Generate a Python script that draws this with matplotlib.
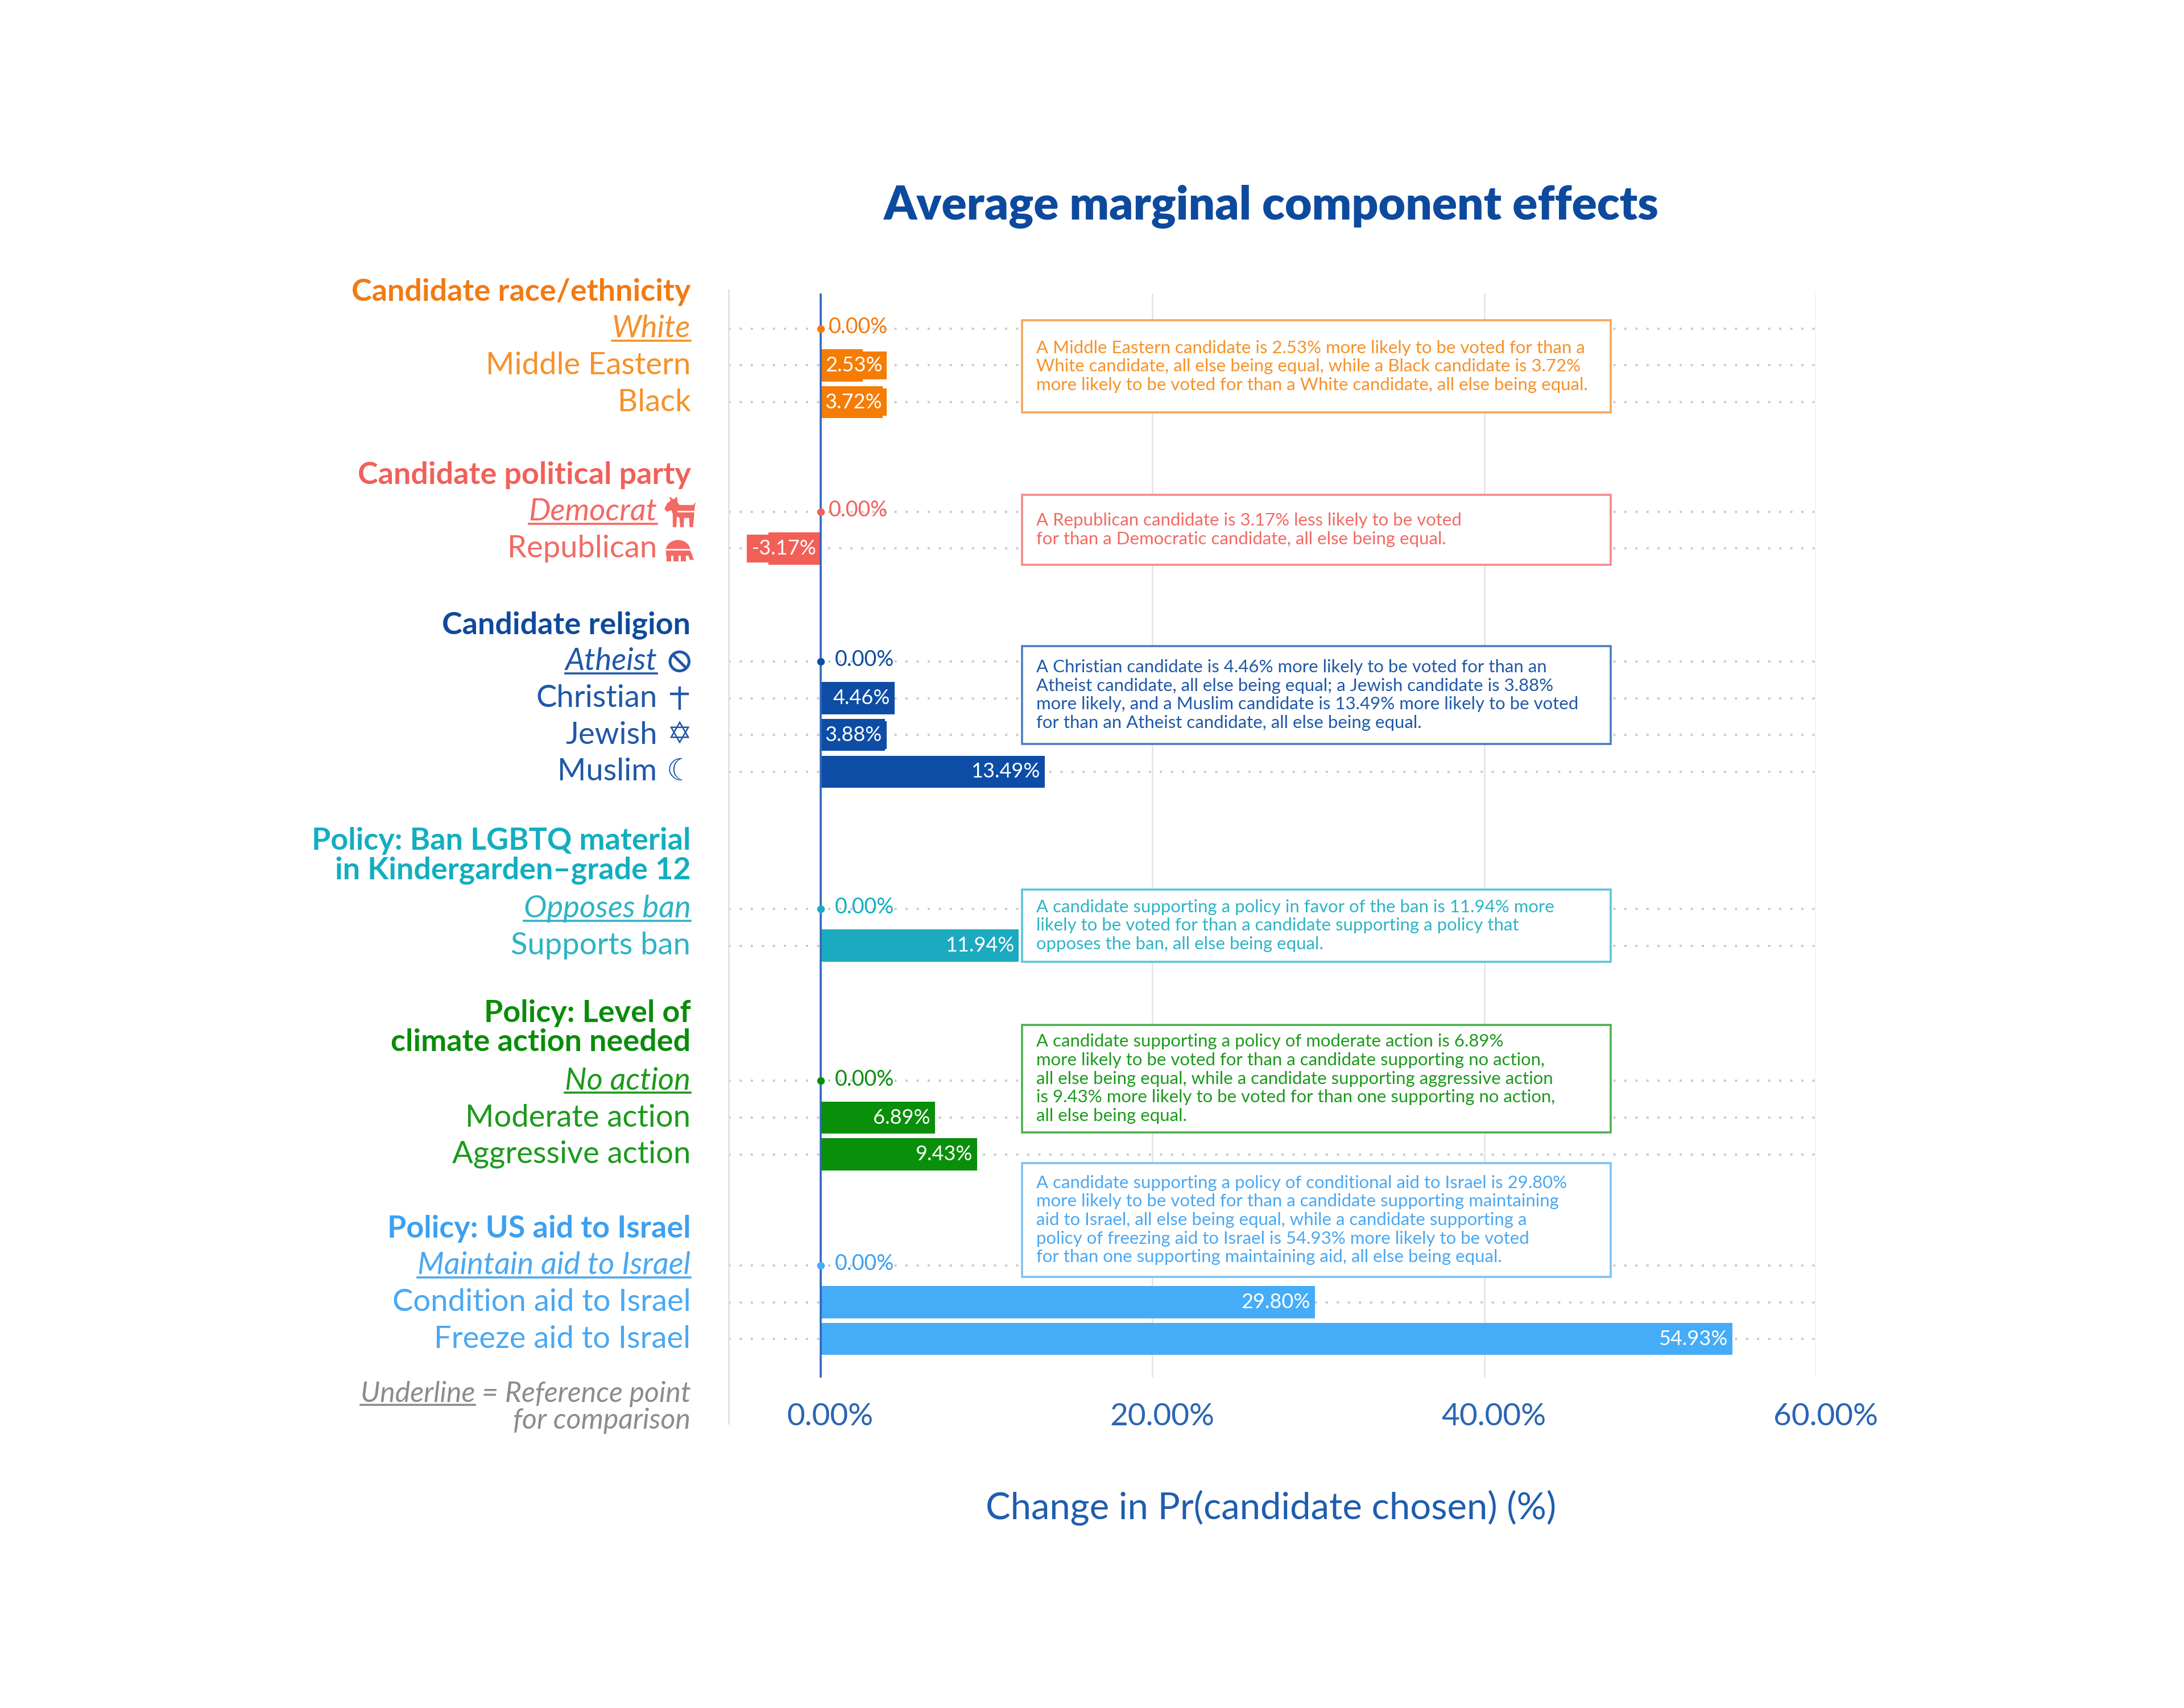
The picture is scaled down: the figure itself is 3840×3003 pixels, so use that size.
import numpy as np
import matplotlib
matplotlib.use("Agg")
import matplotlib.pyplot as plt
from matplotlib.patches import Rectangle, Polygon, Circle, Wedge
from matplotlib.lines import Line2D
import matplotlib.transforms as mtransforms

plt.rcParams['font.family'] = ['Lato', 'DejaVu Sans']

# ---- data ----
group_names = ["Candidate race/ethnicity",
               "Candidate political party",
               "Candidate religion",
               "Policy: Ban LGBTQ material\nin Kindergarden\u2013grade 12",
               "Policy: Level of\nclimate action needed",
               "Policy: US aid to Israel"]

race_levels = ["White", "Middle Eastern", "Black"]
race_amce = [0.00, 2.53, 3.72]
party_levels = ["Democrat", "Republican"]
party_amce = [0.00, -3.17]
religion_levels = ["Atheist", "Christian", "Jewish", "Muslim"]
religion_amce = [0.00, 4.46, 3.88, 13.49]
lgbtq_levels = ["Opposes ban", "Supports ban"]
lgbtq_amce = [0.00, 11.94]
climate_levels = ["No action", "Moderate action", "Aggressive action"]
climate_amce = [0.00, 6.89, 9.43]
israel_levels = ["Maintain aid to Israel", "Condition aid to Israel", "Freeze aid to Israel"]
israel_amce = [0.00, 29.80, 54.93]

all_levels = [race_levels, party_levels, religion_levels, lgbtq_levels, climate_levels, israel_levels]
all_amce = [race_amce, party_amce, religion_amce, lgbtq_amce, climate_amce, israel_amce]

notes = [
    "A Middle Eastern candidate is 2.53% more likely to be voted for than a\n"
    "White candidate, all else being equal, while a Black candidate is 3.72%\n"
    "more likely to be voted for than a White candidate, all else being equal.",
    "A Republican candidate is 3.17% less likely to be voted\n"
    "for than a Democratic candidate, all else being equal.",
    "A Christian candidate is 4.46% more likely to be voted for than an\n"
    "Atheist candidate, all else being equal; a Jewish candidate is 3.88%\n"
    "more likely, and a Muslim candidate is 13.49% more likely to be voted\n"
    "for than an Atheist candidate, all else being equal.",
    "A candidate supporting a policy in favor of the ban is 11.94% more\n"
    "likely to be voted for than a candidate supporting a policy that\n"
    "opposes the ban, all else being equal.",
    "A candidate supporting a policy of moderate action is 6.89%\n"
    "more likely to be voted for than a candidate supporting no action,\n"
    "all else being equal, while a candidate supporting aggressive action\n"
    "is 9.43% more likely to be voted for than one supporting no action,\n"
    "all else being equal.",
    "A candidate supporting a policy of conditional aid to Israel is 29.80%\n"
    "more likely to be voted for than a candidate supporting maintaining\n"
    "aid to Israel, all else being equal, while a candidate supporting a\n"
    "policy of freezing aid to Israel is 54.93% more likely to be voted\n"
    "for than one supporting maintaining aid, all else being equal.",
]

# ---- style ----
head_cols = ['#F27A12', '#F0615A', '#0E4A9C', '#12AEC0', '#0A8C0A', '#3CA0F0']
item_cols = ['#F5922A', '#F26A63', '#2058A8', '#2DB4C6', '#1C9A1C', '#4AA8F2']
bar_cols = ['#F57C05', '#F25F57', '#0D4DA6', '#1BAABF', '#0A8F0A', '#45ACF7']
box_cols = ['#F8A55A', '#F58A85', '#4A7CC0', '#5AC6D4', '#4CB04C', '#7CC1F5']
icons = [None, ['donkey', 'elephant'], ['atheist', 'cross', '\u2721', '\u263E'], None, None, None]
zero_pad = [5, 5, 9, 9, 9, 9]

# layout grid of the reference (px of a 1562 x 1221.5 canvas)
W, H = 1562.0, 1221.5
def fx(px):
    return px / W
def fy(py):
    return 1 - py / H

group_top = [235, 366, 473, 650, 773, 905]
row_step = 26.3
box_rows = [(229, 295), (354, 404), (462, 532), (636, 688), (733, 810), (832, 913)]
box_x = (12.13, 47.61)

fig = plt.figure(figsize=(19.2, 15.015), dpi=200)
ax = fig.add_axes([fx(521), fy(985), fx(1299) - fx(521), fy(210) - fy(985)])
ax.set_xlim(-5.56, 60)
ax.set_ylim(985, 210)
for s in ax.spines.values():
    s.set_visible(False)
ax.set_yticks([])
ax.set_xticks([0, 20, 40, 60])
ax.set_xticklabels([f"{t:.2f}%" for t in [0, 20, 40, 60]])
ax.tick_params(axis='x', length=0, pad=16, labelsize=19.8, labelcolor='#2A66B4')
shift = mtransforms.ScaledTranslation(6 / 72, 0, fig.dpi_scale_trans)
for lab in ax.get_xticklabels():
    lab.set_transform(lab.get_transform() + shift)
for t in [20, 40, 60]:
    ax.axvline(t, color='#E4E4E4', lw=0.9, zorder=0)
ax.axvline(0, color='#2F66BE', lw=1.3, zorder=6)

blend = mtransforms.blended_transform_factory(ax.transAxes, ax.transData)
fig_blend = mtransforms.blended_transform_factory(fig.transFigure, ax.transData)
lab_x = (494 - 521) / (1299 - 521)
lab_x_icon = (470 - 521) / (1299 - 521)
icon_x = 486

underlined = []

def icon_axes(y, w, h):
    fig_xy = fig.transFigure.inverted().transform(ax.transData.transform((0, y)))
    return fig.add_axes([fx(icon_x) - fx(w) / 2, fig_xy[1] - h / H / 2, fx(w), h / H])

def draw_icon(kind, y, col):
    if kind in ('donkey', 'elephant', 'atheist', 'cross'):
        sz = {'donkey': (23, 22), 'elephant': (21, 18), 'atheist': (17, 17), 'cross': (14, 17)}[kind]
        iax = icon_axes(y, *sz)
        iax.set_xlim(0, 1)
        iax.set_ylim(0, 1)
        iax.axis('off')
        if kind == 'donkey':
            pts = [(0.03, 0.60), (0.12, 0.78), (0.22, 0.86), (0.18, 1.0), (0.32, 0.90), (0.42, 1.0),
                   (0.44, 0.80), (0.50, 0.72), (0.93, 0.72), (1.0, 0.82), (0.97, 0.62), (0.95, 0.35),
                   (0.92, 0.0), (0.81, 0.0), (0.80, 0.30), (0.64, 0.30), (0.63, 0.0), (0.52, 0.0),
                   (0.50, 0.30), (0.42, 0.35), (0.40, 0.0), (0.29, 0.0), (0.29, 0.42), (0.25, 0.55),
                   (0.10, 0.50)]
            iax.add_patch(Polygon(pts, closed=True, fc=col, ec='none'))
            iax.plot([0.45, 0.95], [0.52, 0.52], color='white', lw=1.0)
        elif kind == 'elephant':
            iax.add_patch(Wedge((0.45, 0.42), 0.42, 0, 180, fc=col, ec='none'))
            iax.add_patch(Rectangle((0.03, 0.22), 0.84, 0.21, fc=col, ec='none'))
            for lx in (0.05, 0.30, 0.55):
                iax.add_patch(Rectangle((lx, 0.0), 0.16, 0.25, fc=col, ec='none'))
            iax.add_patch(Polygon([(0.80, 0.45), (0.92, 0.30), (0.96, 0.12), (1.0, 0.05),
                                   (0.85, 0.05), (0.80, 0.22)], closed=True, fc=col, ec='none'))
            iax.plot([0.05, 0.86], [0.46, 0.46], color='white', lw=1.0)
        elif kind == 'atheist':
            iax.set_aspect('equal')
            iax.add_patch(Circle((0.5, 0.5), 0.40, fill=False, ec=col, lw=1.8))
            iax.plot([0.22, 0.78], [0.78, 0.22], color=col, lw=1.8, solid_capstyle='butt')
        else:
            iax.plot([0.5, 0.5], [0.0, 1.0], color=col, lw=1.6)
            iax.plot([0.08, 0.92], [0.68, 0.68], color=col, lw=1.6)
    else:
        ax.text(fx(icon_x), y, kind, transform=fig_blend, ha='center', va='center', fontsize=19,
                color=col, family=['DejaVu Sans'], fontweight='bold', clip_on=False)

for g in range(len(group_names)):
    levels = all_levels[g]
    vals = all_amce[g]
    ys = group_top[g] + row_step * np.arange(len(levels))
    for y in ys:
        ax.axhline(y, color='#CACACA', lw=1.4, ls=(0, (1, 4)), zorder=1)
    ax.barh(ys, vals, height=23, color=bar_cols[g], zorder=3)

    nlines = group_names[g].count('\n') + 1
    hy = group_top[g] - (26 if nlines == 1 else 38)
    ax.text(lab_x, hy, group_names[g], transform=blend, ha='right', va='center',
            fontsize=19.4, fontweight='bold', color=head_cols[g], linespacing=1.06, clip_on=False)

    for i, (lev, v, y) in enumerate(zip(levels, vals, ys)):
        has_icon = icons[g] is not None
        t = ax.text(lab_x_icon if has_icon else lab_x, y, lev, transform=blend, ha='right', va='center',
                    fontsize=19.6, color=item_cols[g], style='italic' if i == 0 else 'normal', clip_on=False)
        if i == 0:
            underlined.append((t, item_cols[g]))
        if has_icon:
            draw_icon(icons[g][i], y, item_cols[g])

        lbl = f"{v:.2f}%"
        if v == 0:
            ax.plot(0, y, 'o', ms=3.8, color=bar_cols[g], zorder=7)
            ax.annotate(lbl, (0, y), xytext=(zero_pad[g], 1), textcoords='offset points', ha='left',
                        va='center', fontsize=13.5, color=head_cols[g], zorder=7)
        elif abs(v) < 4:
            # label sits on a patch of the bar colour when the bar is too short to hold it
            ax.annotate(lbl, (0, y), xytext=(2.8 if v > 0 else -2.8, 0), textcoords='offset points',
                        ha='left' if v > 0 else 'right', va='center', fontsize=13, color='white', zorder=5,
                        bbox=dict(boxstyle='square,pad=0.22', fc=bar_cols[g], ec='none'))
        else:
            ax.annotate(lbl, (v, y), xytext=(-3, 0), textcoords='offset points', ha='right', va='center',
                        fontsize=13, color='white', zorder=5)

    top, bot = box_rows[g]
    ax.add_patch(Rectangle((box_x[0], top), box_x[1] - box_x[0], bot - top, fc='white',
                           ec=box_cols[g], lw=1.3, zorder=4))
    ax.text(box_x[0] + 0.85, (top + bot) / 2, notes[g], ha='left', va='center', fontsize=11.2,
            color=item_cols[g], linespacing=1.2, zorder=5)

# separator line left of the plot
fig.add_artist(Line2D([fx(521), fx(521)], [fy(207), fy(1018)], color='#E2E2E2', lw=1.0))

fig.text(fx(909), fy(148), "Average marginal component effects", ha='center', va='center',
         fontsize=29.5, fontweight='heavy', color='#0D4A9E')
fig.text(fx(909), fy(1078), "Change in Pr(candidate chosen) (%)", ha='center', va='center',
         fontsize=23.5, color='#1F5DAE')

foot1 = fig.text(fx(494), fy(997), "Underline = Reference point", ha='right', va='center',
                 fontsize=18, style='italic', color='#8C8C8C')
fig.text(fx(494), fy(1016), "for comparison", ha='right', va='center',
         fontsize=18, style='italic', color='#8C8C8C')

fig.canvas.draw()
r = fig.canvas.get_renderer()
inv = fig.transFigure.inverted()
for t, col in underlined:
    bb = t.get_window_extent(r).transformed(inv)
    fig.add_artist(Line2D([bb.x0, bb.x1], [bb.y0 + 0.0012, bb.y0 + 0.0012], color=col, lw=1.3))

probe = fig.text(0, 0, "Underline", fontsize=18, style='italic')
pw = probe.get_window_extent(r).transformed(inv).width
probe.remove()
bb = foot1.get_window_extent(r).transformed(inv)
fig.add_artist(Line2D([bb.x0, bb.x0 + pw], [bb.y0 + 0.0012, bb.y0 + 0.0012], color='#8C8C8C', lw=1.3))

fig.savefig("out.png", dpi=200, facecolor='white')
